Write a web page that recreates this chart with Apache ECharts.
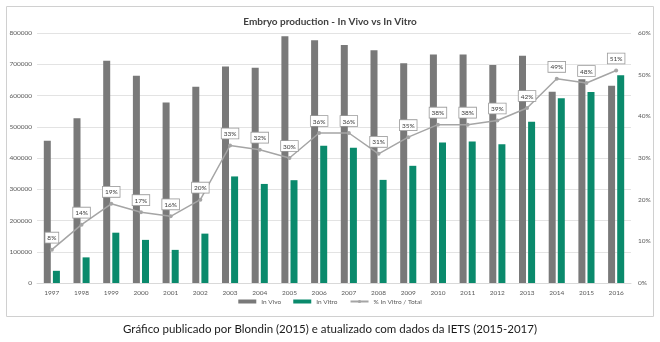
<!DOCTYPE html>
<html><head><meta charset="utf-8">
<script src="https://cdn.jsdelivr.net/npm/echarts@6/dist/echarts.min.js"></script>
<style>html,body{margin:0;padding:0;background:#fff}#c{width:660px;height:342px}</style>
</head><body><div id="c"></div>
<script>
const years = ['1997','1998','1999','2000','2001','2002','2003','2004','2005','2006','2007','2008','2009','2010','2011','2012','2013','2014','2015','2016'];
const inVivo = [455000,527000,711000,663000,578000,628000,693000,689000,790000,777000,762000,745000,703000,731000,731000,698000,727000,612000,652000,631000];
const inVitro = [39000,82000,161000,138000,106000,158000,341000,317000,329000,439000,433000,330000,375000,450000,453000,444000,516000,591000,611000,665000];
const pctInVitro = [8,14,19,17,16,20,33,32,30,36,36,31,35,38,38,39,42,49,48,51];
const leftTicks = [0,100000,200000,300000,400000,500000,600000,700000,800000];
const rightTicks = [0,10,20,30,40,50,60];

const chart = echarts.init(document.getElementById('c'));
const ff = 'Lato, "Open Sans", sans-serif';
const axisTxt = {color:'#595959', fontSize:6.5, fontFamily:ff};
chart.setOption({
  animation:false,
  title:{text:'Embryo production - In Vivo vs In Vitro', left:'center', top:12,
    textStyle:{fontSize:10, fontWeight:'bold', color:'#404040', fontFamily:ff}},
  grid:{left:37, right:29, top:33, bottom:59},
  legend:{bottom:32, left:'center', itemWidth:18, itemHeight:4, itemGap:12,
    textStyle:{fontSize:6.5, color:'#595959', fontFamily:ff},
    data:[{name:'In Vivo', icon:'rect'},{name:'In Vitro', icon:'rect'},{name:'% In Vitro / Total'}]},
  xAxis:{type:'category', data:years,
    axisLine:{lineStyle:{color:'#d9d9d9'}}, axisTick:{show:false},
    axisLabel:Object.assign({margin:6}, axisTxt)},
  yAxis:[
    {type:'value', min:leftTicks[0], max:leftTicks[leftTicks.length-1], interval:100000,
     splitLine:{lineStyle:{color:'#e3e3e3'}}, axisLine:{show:false}, axisTick:{show:false},
     axisLabel:Object.assign({margin:5, formatter:v => String(v)}, axisTxt)},
    {type:'value', min:rightTicks[0], max:rightTicks[rightTicks.length-1], interval:10,
     splitLine:{show:false}, axisLine:{show:false}, axisTick:{show:false},
     axisLabel:Object.assign({margin:7, formatter:'{value}%'}, axisTxt)}
  ],
  series:[
    {name:'In Vivo', type:'bar', data:inVivo, barWidth:7, barGap:'30%', itemStyle:{color:'#797979'}},
    {name:'In Vitro', type:'bar', data:inVitro, barWidth:7, itemStyle:{color:'#0a8a6c'}},
    {name:'% In Vitro / Total', type:'line', yAxisIndex:1, data:pctInVitro,
     symbol:'circle', symbolSize:4, lineStyle:{color:'#a5a5a5', width:1.5}, itemStyle:{color:'#a5a5a5'},
     label:{show:true, position:'top', distance:5, formatter:'{c}%', fontSize:6.5, color:'#404040', fontFamily:ff,
       backgroundColor:'#fff', borderColor:'#9a9a9a', borderWidth:0.8, padding:[2,2,1,2]}}
  ],
  graphic:[
    {type:'rect', shape:{x:6.5, y:6.5, width:647, height:310}, style:{fill:null, stroke:'#d0d0d0', lineWidth:1}, silent:true},
    {type:'text', left:'center', top:323, style:{text:'Gráfico publicado por Blondin (2015) e atualizado com dados da IETS (2015-2017)',
      fontSize:11.5, fill:'#1a1a1a', fontFamily:ff}}
  ]
});
</script></body></html>
